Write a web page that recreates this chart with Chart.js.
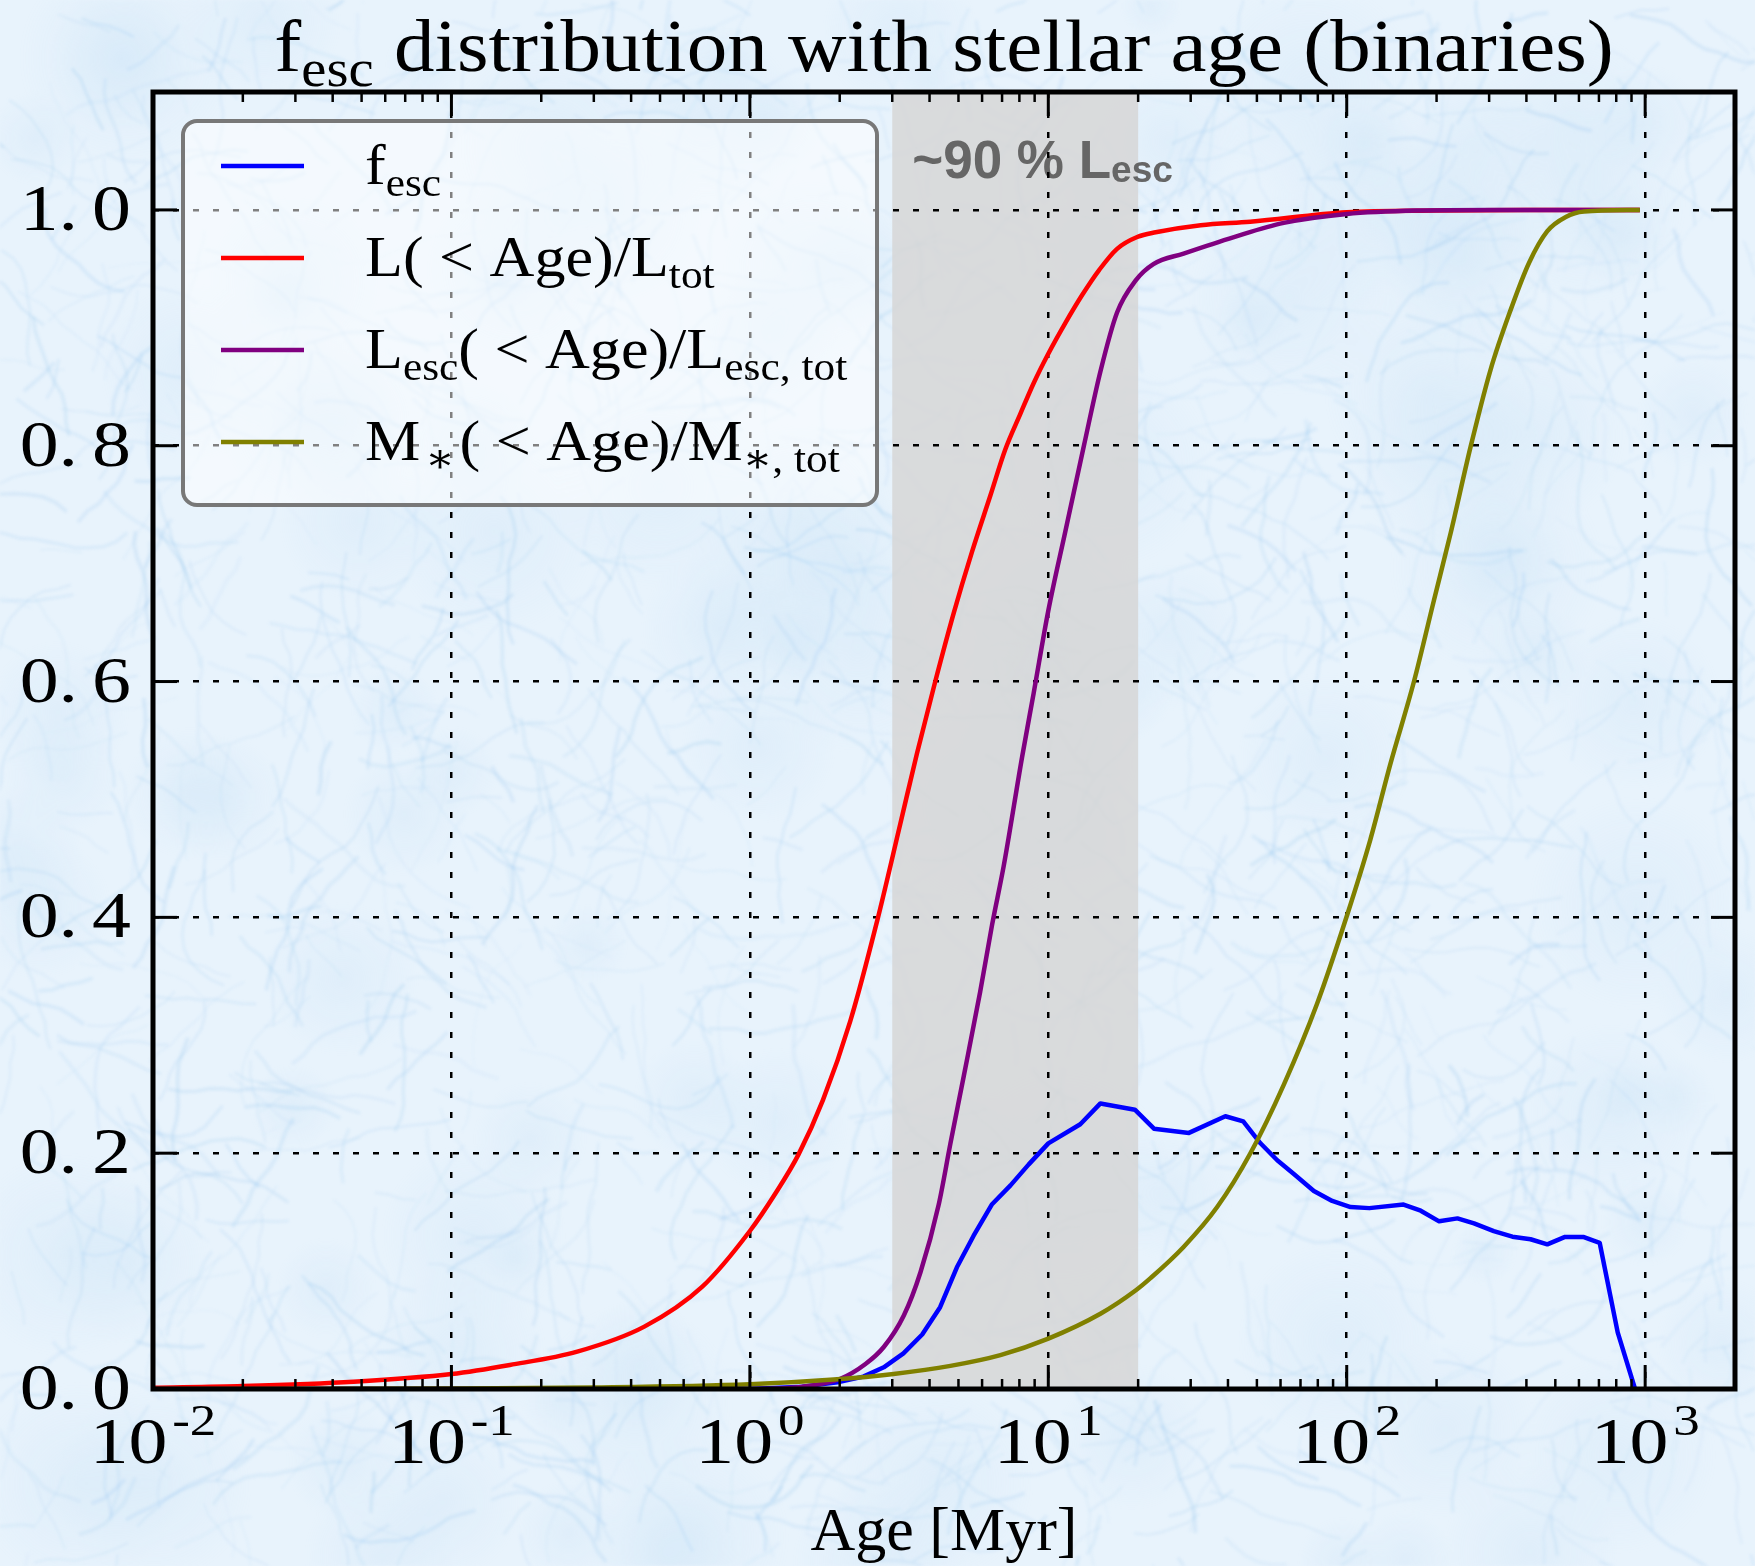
<!DOCTYPE html>
<html>
<head>
<meta charset="utf-8">
<title>f_esc distribution with stellar age (binaries)</title>
<script src="https://cdn.jsdelivr.net/npm/chart.js@4.4.1/dist/chart.umd.min.js"></script>
<style>
  html, body { margin: 0; padding: 0; background: #e8f3fc; }
  #wrap { position: relative; width: 1755px; height: 1566px; overflow: hidden; }
  #wrap canvas { position: absolute; left: 0; top: 0; }
</style>
</head>
<body>
<div id="wrap">
  <canvas id="paper" width="1755" height="1566"></canvas>
  <canvas id="chart" width="1755" height="1566"></canvas>
</div>
<script>
// ---- data: ages in Myr, cumulative fractions / escape fraction ----
const fescAge   = [0.01, 1.0, 1.5, 2.0, 2.4, 2.81, 3.27, 3.78, 4.34, 4.94, 5.62, 6.48, 7.47, 8.6, 10.0, 12.8, 14.95, 19.5, 22.6, 29.6, 39.2, 45.0, 51.4, 58.5, 66.5, 77.6, 89.4, 103, 119, 155, 177, 204, 235, 267, 311, 359, 413, 470, 539, 620, 704, 809, 925];
const fescValue = [0, 0, 0.002, 0.006, 0.0105, 0.0184, 0.0302, 0.0462, 0.0694, 0.1032, 0.130, 0.1567, 0.1727, 0.1905, 0.2083, 0.2245, 0.2422, 0.2369, 0.2208, 0.2172, 0.2313, 0.227, 0.2084, 0.194, 0.1824, 0.168, 0.1595, 0.1543, 0.1534, 0.1564, 0.1512, 0.1422, 0.1447, 0.1405, 0.1339, 0.1292, 0.127, 0.1227, 0.129, 0.129, 0.124, 0.048, 0.0];

const lumAge  = [0.01, 0.02, 0.047, 0.1, 0.157, 0.264, 0.443, 0.693, 1.0, 1.216, 1.456, 1.757, 2.17, 2.67, 3.19, 3.63, 4.18, 4.82, 5.55, 6.40, 7.18, 8.06, 8.93, 10.0, 11.4, 13.0, 14.8, 17.0, 19.85, 22.9, 32.4, 47.5, 100, 200, 400, 960];
const lumFrac = [0.001, 0.0025, 0.0062, 0.0127, 0.0204, 0.0317, 0.0529, 0.0868, 0.134, 0.1656, 0.199, 0.245, 0.312, 0.397, 0.479, 0.539, 0.600, 0.658, 0.710, 0.758, 0.797, 0.827, 0.853, 0.878, 0.904, 0.928, 0.949, 0.967, 0.977, 0.981, 0.987, 0.990, 0.998, 0.9995, 1.0, 1.0];

const lescAge  = [0.01, 1.0, 1.48, 2.01, 2.44, 2.81, 3.28, 3.73, 4.29, 4.70, 5.21, 5.91, 6.48, 7.09, 8.17, 8.93, 10.0, 11.4, 13.15, 14.95, 17.0, 19.6, 22.5, 28.4, 41.9, 61.5, 100, 172, 300, 960];
const lescFrac = [0, 0, 0.0017, 0.0087, 0.0212, 0.0356, 0.0623, 0.099, 0.156, 0.2083, 0.2655, 0.3367, 0.3936, 0.4436, 0.536, 0.590, 0.660, 0.727, 0.7995, 0.863, 0.913, 0.940, 0.954, 0.963, 0.977, 0.989, 0.9966, 0.9995, 1.0, 1.0];

const massAge  = [0.01, 0.1, 0.3, 1.0, 1.91, 3.03, 4.70, 6.91, 10.0, 14.95, 19.6, 22.0, 28.4, 36.8, 47.5, 61.5, 79.6, 100, 120, 140, 168, 196, 223, 260, 303, 354, 408, 470, 542, 624, 960];
const massFrac = [0, 0.0004, 0.0013, 0.0041, 0.0081, 0.0128, 0.0196, 0.0287, 0.0427, 0.0638, 0.0835, 0.094, 0.1205, 0.1543, 0.1997, 0.258, 0.327, 0.401, 0.466, 0.530, 0.600, 0.669, 0.726, 0.799, 0.864, 0.915, 0.955, 0.982, 0.994, 0.9986, 1.0];

// shaded age window holding ~90% of the escaping luminosity
const bandAges = [3.0, 20.0];
const bandLabelAt = [3.5, 1.027];

// axis ticks
const xMajorTicks = [0.01, 0.1, 1, 10, 100, 1000];
const xTickExponents = ['-2', '-1', '0', '1', '2', '3'];
const yTicks = [0, 0.2, 0.4, 0.6, 0.8, 1.0];
const yTickLabels = ['0.0', '0.2', '0.4', '0.6', '0.8', '1.0'];

// ---- text with sub/superscripts ----
const SERIF = '"Liberation Serif", "DejaVu Serif", serif';
const SANS = '"Liberation Sans", Arial, sans-serif';
const SUB = { s: 0.7, dy: 0.2 };

function layoutRich(ctx, segs, base, family, weight) {
  let w = 0;
  const items = [];
  for (const s of segs) {
    const size = base * (s.s || 1);
    const font = `${weight || 'normal'} ${size}px ${family}`;
    ctx.font = font;
    w += (s.pre || 0) * base;
    items.push({ t: s.t, font, x: w, dy: (s.dy || 0) * base });
    w += ctx.measureText(s.t).width;
    w += (s.post || 0) * base;
  }
  return { items, w };
}
function drawRich(ctx, segs, x, y, o) {
  const { items, w } = layoutRich(ctx, segs, o.size, o.family, o.weight);
  const sx = o.sx || 1;
  let x0 = x;
  if (o.align === 'center') x0 = x - w * sx / 2;
  else if (o.align === 'right') x0 = x - w * sx;
  ctx.save();
  ctx.translate(x0, y);
  ctx.scale(sx, 1);
  ctx.fillStyle = o.color || '#000';
  ctx.textAlign = 'left';
  ctx.textBaseline = 'alphabetic';
  for (const it of items) { ctx.font = it.font; ctx.fillText(it.t, it.x, it.dy); }
  ctx.restore();
}

const titleSegs = [{ t: 'f' }, { t: 'esc', ...SUB }, { t: ' distribution with stellar age (binaries)' }];
const bandLabelSegs = [{ t: '~90 % L' }, { t: 'esc', s: 0.7, dy: 0.07 }];
const legendEntries = [
  { color: '#0000ff', segs: [{ t: 'f' }, { t: 'esc', ...SUB }] },
  { color: '#ff0000', segs: [{ t: 'L( < Age)/L' }, { t: 'tot', ...SUB }] },
  { color: '#800080', segs: [{ t: 'L' }, { t: 'esc', ...SUB }, { t: '( < Age)/L' }, { t: 'esc, tot', ...SUB }] },
  { color: '#808000', segs: [{ t: 'M' }, { t: '\u2217', s: 0.7, dy: 0.2, pre: 0.08, post: 0.08 }, { t: '( < Age)/M' }, { t: '\u2217, tot', ...SUB }] }
];

// ---- light blue paper texture behind the figure ----
(function paper() {
  const c = document.getElementById('paper');
  const g = c.getContext('2d');
  g.fillStyle = '#e8f3fc';
  g.fillRect(0, 0, c.width, c.height);
  const off = document.createElement('canvas');
  off.width = c.width; off.height = c.height;
  const o = off.getContext('2d');
  let seed = 917;
  const rnd = () => { seed = (seed * 1664525 + 1013904223) >>> 0; return seed / 4294967296; };
  for (let i = 0; i < 120; i++) {
    const x = rnd() * c.width, y = rnd() * c.height, r = 30 + rnd() * 80;
    const gr = o.createRadialGradient(x, y, 0, x, y, r);
    gr.addColorStop(0, 'rgba(180,215,243,0.16)');
    gr.addColorStop(1, 'rgba(180,215,243,0)');
    o.fillStyle = gr;
    o.fillRect(x - r, y - r, 2 * r, 2 * r);
  }
  for (let i = 0; i < 1700; i++) {
    let x = rnd() * c.width, y = rnd() * c.height, a = rnd() * Math.PI * 2;
    o.beginPath();
    o.moveTo(x, y);
    const n = 3 + Math.floor(rnd() * 9);
    for (let k = 0; k < n; k++) {
      a += (rnd() - 0.5) * 0.7;
      x += Math.cos(a) * 14; y += Math.sin(a) * 14;
      o.lineTo(x, y);
    }
    o.strokeStyle = `rgba(125,185,235,${0.05 + rnd() * 0.14})`;
    o.lineWidth = 1.2 + rnd() * 2.6;
    o.stroke();
  }
  g.filter = 'blur(1.6px)';
  g.drawImage(off, 0, 0);
  g.filter = 'none';
})();

// ---- figure decorations drawn through the chart scales ----
function line(ctx, x1, y1, x2, y2) { ctx.beginPath(); ctx.moveTo(x1, y1); ctx.lineTo(x2, y2); ctx.stroke(); }

const figure = {
  id: 'figure',
  beforeDraw(chart) {
    const { ctx, chartArea: a, scales: { x, y } } = chart;
    ctx.save();
    ctx.beginPath(); ctx.rect(a.left, a.top, a.width, a.height); ctx.clip();
    const x0 = x.getPixelForValue(bandAges[0]), x1 = x.getPixelForValue(bandAges[1]);
    ctx.fillStyle = 'rgba(214,214,214,0.86)';
    ctx.fillRect(x0, a.top, x1 - x0, a.height);
    ctx.restore();
    drawRich(ctx, bandLabelSegs, x.getPixelForValue(bandLabelAt[0]), y.getPixelForValue(bandLabelAt[1]),
      { size: 53, family: SANS, weight: 'bold', color: '#666666' });
  },
  afterDatasetsDraw(chart) {
    const { ctx, chartArea: a, scales: { x, y } } = chart;
    ctx.save();
    ctx.strokeStyle = '#000';
    ctx.lineCap = 'butt';
    // minor x ticks (2..9 per decade), top and bottom, inward
    ctx.lineWidth = 2.5;
    for (const d of xMajorTicks) {
      for (let k = 2; k <= 9; k++) {
        const v = d * k;
        if (v >= x.max) continue;
        const px = x.getPixelForValue(v);
        line(ctx, px, a.bottom, px, a.bottom - 10);
        line(ctx, px, a.top, px, a.top + 10);
      }
    }
    // major ticks
    ctx.lineWidth = 3;
    for (const v of xMajorTicks) {
      const px = x.getPixelForValue(v);
      line(ctx, px, a.bottom, px, a.bottom - 24);
      line(ctx, px, a.top, px, a.top + 24);
    }
    for (const v of yTicks) {
      const py = y.getPixelForValue(v);
      line(ctx, a.left, py, a.left + 24, py);
      line(ctx, a.right, py, a.right - 24, py);
    }
    // spines
    ctx.lineWidth = 5;
    ctx.strokeRect(a.left, a.top, a.width, a.height);
    ctx.restore();

    // legend
    const lx = a.left + 30, ly = a.top + 29, lw = 694, lh = 384, r = 14;
    ctx.save();
    ctx.beginPath();
    ctx.moveTo(lx + r, ly);
    ctx.arcTo(lx + lw, ly, lx + lw, ly + lh, r);
    ctx.arcTo(lx + lw, ly + lh, lx, ly + lh, r);
    ctx.arcTo(lx, ly + lh, lx, ly, r);
    ctx.arcTo(lx, ly, lx + lw, ly, r);
    ctx.closePath();
    ctx.fillStyle = 'rgba(255,255,255,0.5)';
    ctx.fill();
    ctx.lineWidth = 4;
    ctx.strokeStyle = '#787878';
    ctx.stroke();
    legendEntries.forEach((e, i) => {
      const ry = ly + 45 + i * 92;
      ctx.strokeStyle = e.color;
      ctx.lineWidth = 4.5;
      line(ctx, lx + 38, ry, lx + 121, ry);
      drawRich(ctx, e.segs, lx + 182, ry + 18, { size: 58, family: SERIF, sx: 1.07 });
    });
    ctx.restore();
  },
  afterDraw(chart) {
    const { ctx, chartArea: a, scales: { x, y } } = chart;
    // y tick labels
    yTicks.forEach((v, i) => {
      const [ip, fp] = yTickLabels[i].split('.');
      const py = y.getPixelForValue(v);
      drawRich(ctx, [{ t: ip + '.' }, { t: fp, pre: 0.18 }], a.left - 22, py + 20,
        { size: 66, family: SERIF, align: 'right', sx: 1.18 });
    });
    // x tick labels: 10^n
    xMajorTicks.forEach((v, i) => {
      const px = x.getPixelForValue(v);
      drawRich(ctx, [{ t: '10' }, { t: xTickExponents[i], s: 0.68, dy: -0.42, pre: 0.06 }], px, a.bottom + 74,
        { size: 66, family: SERIF, align: 'center', sx: 1.18 });
    });
    // axis title and figure title
    drawRich(ctx, [{ t: 'Age [Myr]' }], (a.left + a.right) / 2, a.bottom + 161,
      { size: 62, family: SERIF, align: 'center' });
    drawRich(ctx, titleSegs, (a.left + a.right) / 2, a.top - 21,
      { size: 74, family: SERIF, align: 'center', sx: 1.095 });
  }
};

const pts = (xs, ys) => xs.map((v, i) => ({ x: v, y: ys[i] }));

new Chart(document.getElementById('chart'), {
  type: 'line',
  data: {
    datasets: [
      { label: 'f_esc', data: pts(fescAge, fescValue), borderColor: '#0000ff', order: 4 },
      { label: 'L(<Age)/L_tot', data: pts(lumAge, lumFrac), borderColor: '#ff0000', order: 3, cubicInterpolationMode: 'monotone' },
      { label: 'L_esc(<Age)/L_esc,tot', data: pts(lescAge, lescFrac), borderColor: '#800080', order: 2, cubicInterpolationMode: 'monotone' },
      { label: 'M_*(<Age)/M_*,tot', data: pts(massAge, massFrac), borderColor: '#808000', order: 1, cubicInterpolationMode: 'monotone' }
    ]
  },
  options: {
    responsive: false,
    animation: false,
    devicePixelRatio: 1,
    layout: { padding: { left: 153, top: 92, right: 20, bottom: 177 } },
    elements: {
      point: { radius: 0 },
      line: { borderWidth: 4.5, tension: 0, fill: false, borderJoinStyle: 'round' }
    },
    plugins: { legend: { display: false }, title: { display: false }, tooltip: { enabled: false } },
    scales: {
      x: {
        type: 'logarithmic', min: 0.01, max: 2000,
        afterBuildTicks: s => { s.ticks = xMajorTicks.map(v => ({ value: v })); },
        ticks: { display: false },
        grid: { color: '#000', lineWidth: 2.5, drawTicks: false },
        border: { display: false, dash: [6, 14] }
      },
      y: {
        type: 'linear', min: 0, max: 1.1,
        afterBuildTicks: s => { s.ticks = yTicks.map(v => ({ value: v })); },
        ticks: { display: false },
        grid: { color: '#000', lineWidth: 2.5, drawTicks: false },
        border: { display: false, dash: [6, 14] }
      }
    }
  },
  plugins: [figure]
});
</script>
</body>
</html>
